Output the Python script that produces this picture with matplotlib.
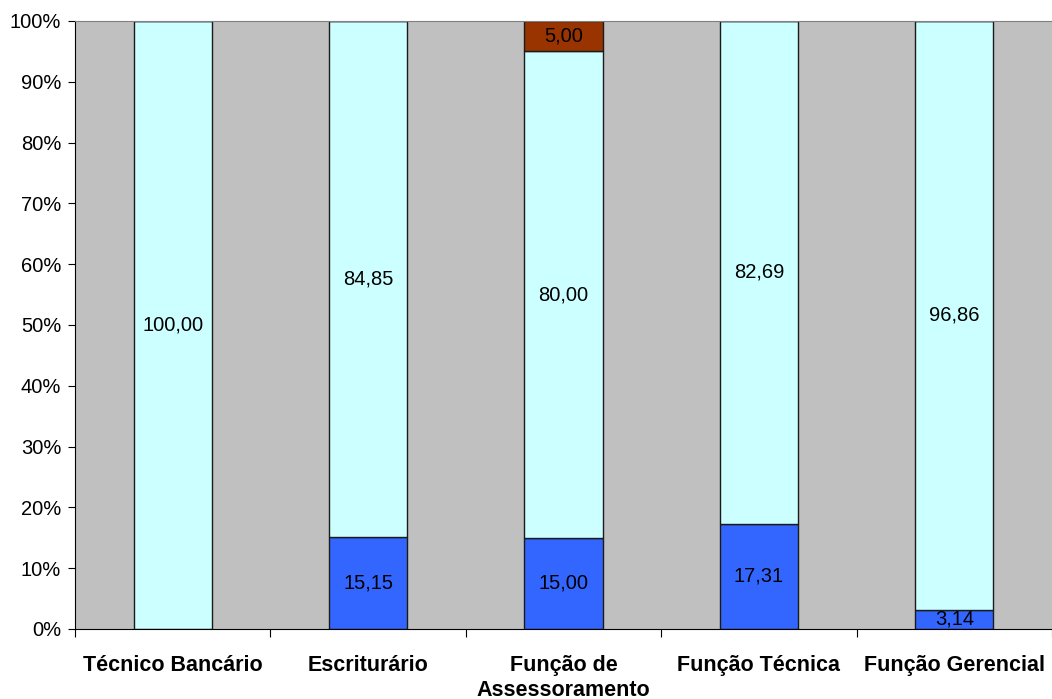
import matplotlib.pyplot as plt
import numpy as np

plt.rcParams['font.family'] = ['Liberation Sans', 'DejaVu Sans']

categories = ['Técnico Bancário', 'Escriturário', 'Função de\nAssessoramento',
              'Função Técnica', 'Função Gerencial']
azul = [0.0, 15.15, 15.00, 17.31, 3.14]
ciano = [100.00, 84.85, 80.00, 82.69, 96.86]
marrom = [0.0, 0.0, 5.00, 0.0, 0.0]

series = [(azul, '#3366FF'), (ciano, '#CCFFFF'), (marrom, '#993300')]

fig = plt.figure(figsize=(10.52, 6.99), dpi=100)
ax = fig.add_axes([75 / 1052, 1 - 629 / 699, 977 / 1052, 608 / 699])
ax.set_facecolor('#C0C0C0')

x = np.arange(len(categories))
bottom = np.zeros(len(categories))
for vals, cor in series:
    vals = np.array(vals)
    ax.bar(x, vals, width=0.4, bottom=bottom, color=cor,
           edgecolor='#1a1a1a', linewidth=1, zorder=2)
    for xi, v, b in zip(x, vals, bottom):
        if v > 0:
            ax.text(xi, b + v / 2, f'{v:.2f}'.replace('.', ','),
                    ha='center', va='center', fontsize=14.5, zorder=3)
    bottom += vals

ax.set_xlim(-0.5, len(categories) - 0.5)
ax.set_ylim(0, 100)
ax.set_yticks(np.arange(0, 101, 10))
ax.set_yticklabels([f'{v}%' for v in range(0, 101, 10)], fontsize=14.5)
ax.set_xticks(np.arange(-0.5, len(categories), 1), minor=False)
ax.set_xticklabels([])
ax.set_xticks(x, minor=True)
ax.set_xticklabels(categories, minor=True, fontsize=15.5, fontweight='bold',
                   va='top', linespacing=1.2)
ax.tick_params(axis='x', which='minor', length=0, pad=19)
ax.tick_params(axis='x', which='major', length=6, direction='out')
ax.tick_params(axis='y', length=5, direction='out', pad=5)

ax.spines['right'].set_visible(False)
ax.spines['top'].set_color('#808080')
ax.spines['left'].set_color('black')
ax.spines['bottom'].set_color('black')

fig.savefig('out.png', dpi=100)
